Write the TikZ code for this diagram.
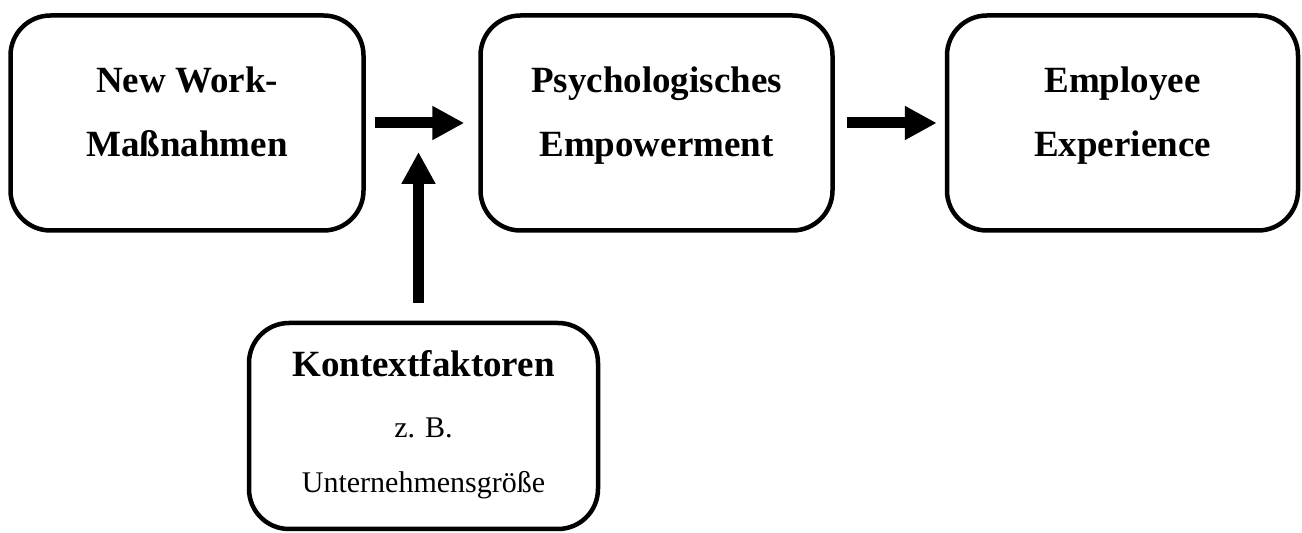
\documentclass[tikz,border=0pt]{standalone}
\usepackage{fontspec}
\setmainfont{Liberation Serif}
\usetikzlibrary{arrows.meta}
\begin{document}
\begin{tikzpicture}[x=1pt,y=1pt,
  box/.style={draw=black, line width=4.5pt, rounded corners=40pt, minimum height=215pt, inner sep=0pt},
  boldtxt/.style={anchor=base, inner sep=0pt, font=\fontsize{37}{44}\selectfont\bfseries},
  regtxt/.style={anchor=base, inner sep=0pt, font=\fontsize{30}{36}\selectfont},
  bigarrow/.style={line width=11pt, -{Triangle[length=32pt 0 0, width=32pt 0 0]}}]
\useasboundingbox (0,0) rectangle (1302,533);
% boxes
\node[box, minimum width=353pt] (b1) at (187,410) {};
\node[box, minimum width=352pt] (b2) at (656.5,410) {};
\node[box, minimum width=351pt] (b3) at (1122.5,410) {};
\node[box, minimum width=349pt, minimum height=206pt] (b4) at (423.5,107) {};
% texts
\node[boldtxt] (t1a) at (187,440) {New Work-};
\node[boldtxt] (t1b) at (187,376) {Maßnahmen};
\node[boldtxt] (t2a) at (656.5,440) {Psychologisches};
\node[boldtxt] (t2b) at (656.5,376) {Empowerment};
\node[boldtxt] (t3a) at (1122.5,440) {Employee};
\node[boldtxt] (t3b) at (1122.5,376) {Experience};
\node[boldtxt] (t4a) at (423.5,156) {Kontextfaktoren};
\node[regtxt] (t4b) at (423.5,95) {z. B.};
\node[regtxt] (t4c) at (423.5,40) {Unternehmensgröße};
% arrows
\draw[bigarrow, shorten <=9pt, shorten >=14pt] (b1.east) -- (b2.west);
\draw[bigarrow, shorten <=12pt, shorten >=8pt] (b2.east) -- (b3.west);
\coordinate (vt) at (418.5,381);
\draw[bigarrow, shorten <=18pt] (vt |- b4.north) -- (vt);
\end{tikzpicture}
\end{document}
